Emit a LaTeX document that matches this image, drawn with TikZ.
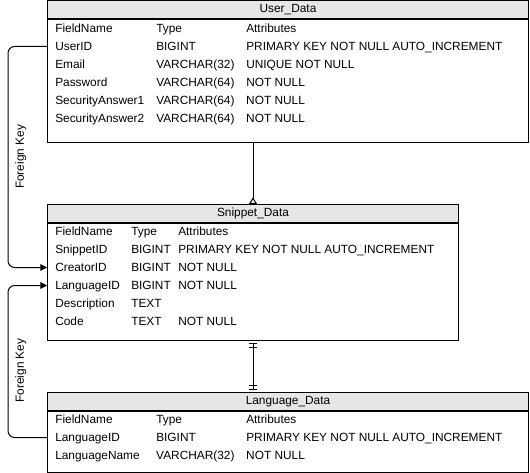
\documentclass[tikz,border=0pt]{standalone}
\usepackage{fontspec}
\setmainfont{Liberation Sans}
\usepackage{tikz}
\usetikzlibrary{arrows.meta, positioning}
\definecolor{headgray}{RGB}{230,230,230}
\newlength{\fieldw}
\newlength{\typew}
\newcommand{\tabrow}[3]{\makebox[\fieldw][l]{#1}\makebox[\typew][l]{#2}#3}

\begin{document}
\begin{tikzpicture}[
  x=0.75pt, y=-0.75pt,
  every node/.style={font=\fontsize{8.9}{10.7}\selectfont},
  tablehead/.style={draw, fill=headgray, anchor=north west, minimum height=13.5pt,
                    inner sep=0pt, line width=0.75pt},
  tablebox/.style={draw, anchor=north west, inner sep=0pt, line width=0.75pt},
  cell/.style={anchor=west, inner sep=0pt, text height=6.4pt, text depth=0pt},
  fkarrow/.style={-{Triangle[length=5pt,width=5pt]}, line width=0.75pt, rounded corners=5pt},
  fklabel/.style={rotate=90, anchor=north, inner sep=5pt},
  onemany/.style={-{Triangle[open,reversed,length=5pt,width=6pt]}, line width=0.75pt},
  oneone/.style={{Bar[width=5.5pt,sep=1.8pt]Bar[width=5.5pt,sep=1.8pt]}-{Bar[width=5.5pt,sep=1.8pt]Bar[width=5.5pt,sep=1.8pt]},
                 line width=0.75pt}
]
\useasboundingbox (0,0) rectangle (530,473);

% Table 1: User_Data
\node[tablehead, minimum width=360.75pt] (userhead) at (47,0.5) {User\_Data};
\node[tablebox, minimum width=360.75pt, minimum height=91.9pt] (userbox) at (userhead.south west) {};
\setlength{\fieldw}{75.75pt}\setlength{\typew}{67.5pt}
\node[cell] (u-field) at (55,28.5) {\tabrow{FieldName}{Type}{Attributes}};
\node[cell] (u-id) at (55,46.5) {\tabrow{UserID}{BIGINT}{PRIMARY KEY NOT NULL AUTO\_INCREMENT}};
\node[cell] (u-email) at (55,64.5) {\tabrow{Email}{VARCHAR(32)}{UNIQUE NOT NULL}};
\node[cell] (u-pass) at (55,82.5) {\tabrow{Password}{VARCHAR(64)}{NOT NULL}};
\node[cell] (u-sa1) at (55,100.5) {\tabrow{SecurityAnswer1}{VARCHAR(64)}{NOT NULL}};
\node[cell] (u-sa2) at (55,118.5) {\tabrow{SecurityAnswer2}{VARCHAR(64)}{NOT NULL}};

% Table 2: Snippet_Data
\node[tablehead, minimum width=308.25pt] (sniphead) at (47,204) {Snippet\_Data};
\node[tablebox, minimum width=308.25pt, minimum height=87.75pt] (snipbox) at (sniphead.south west) {};
\setlength{\fieldw}{57pt}\setlength{\typew}{35.25pt}
\node[cell] (s-field) at (55,231.5) {\tabrow{FieldName}{Type}{Attributes}};
\node[cell] (s-id) at (55,249.5) {\tabrow{SnippetID}{BIGINT}{PRIMARY KEY NOT NULL AUTO\_INCREMENT}};
\node[cell] (s-creator) at (55,267.5) {\tabrow{CreatorID}{BIGINT}{NOT NULL}};
\node[cell] (s-lang) at (55,285.5) {\tabrow{LanguageID}{BIGINT}{NOT NULL}};
\node[cell] (s-desc) at (55,303.5) {\tabrow{Description}{TEXT}{}};
\node[cell] (s-code) at (55,321.5) {\tabrow{Code}{TEXT}{NOT NULL}};

% Table 3: Language_Data
\node[tablehead, minimum width=360.75pt] (langhead) at (47,392) {Language\_Data};
\node[tablebox, minimum width=360.75pt, minimum height=45.75pt] (langbox) at (langhead.south west) {};
\setlength{\fieldw}{75.75pt}\setlength{\typew}{67.5pt}
\node[cell] (l-field) at (55,419.5) {\tabrow{FieldName}{Type}{Attributes}};
\node[cell] (l-id) at (55,437.5) {\tabrow{LanguageID}{BIGINT}{PRIMARY KEY NOT NULL AUTO\_INCREMENT}};
\node[cell] (l-name) at (55,455.5) {\tabrow{LanguageName}{VARCHAR(32)}{NOT NULL}};

% Relations
\draw[onemany] (userbox.south -| sniphead.north) -- (sniphead.north);
\draw[oneone] (snipbox.south) -- (langhead.north -| snipbox.south);

% Foreign keys
\draw[fkarrow] (userbox.west |- u-id) -- ++(-39,0) |- node[fklabel, pos=0.25] {Foreign Key} (snipbox.west |- s-creator);
\draw[fkarrow] (langbox.west |- l-id) -- ++(-39,0) |- node[fklabel, pos=0.22] {Foreign Key} (snipbox.west |- s-lang);

\end{tikzpicture}
\end{document}
